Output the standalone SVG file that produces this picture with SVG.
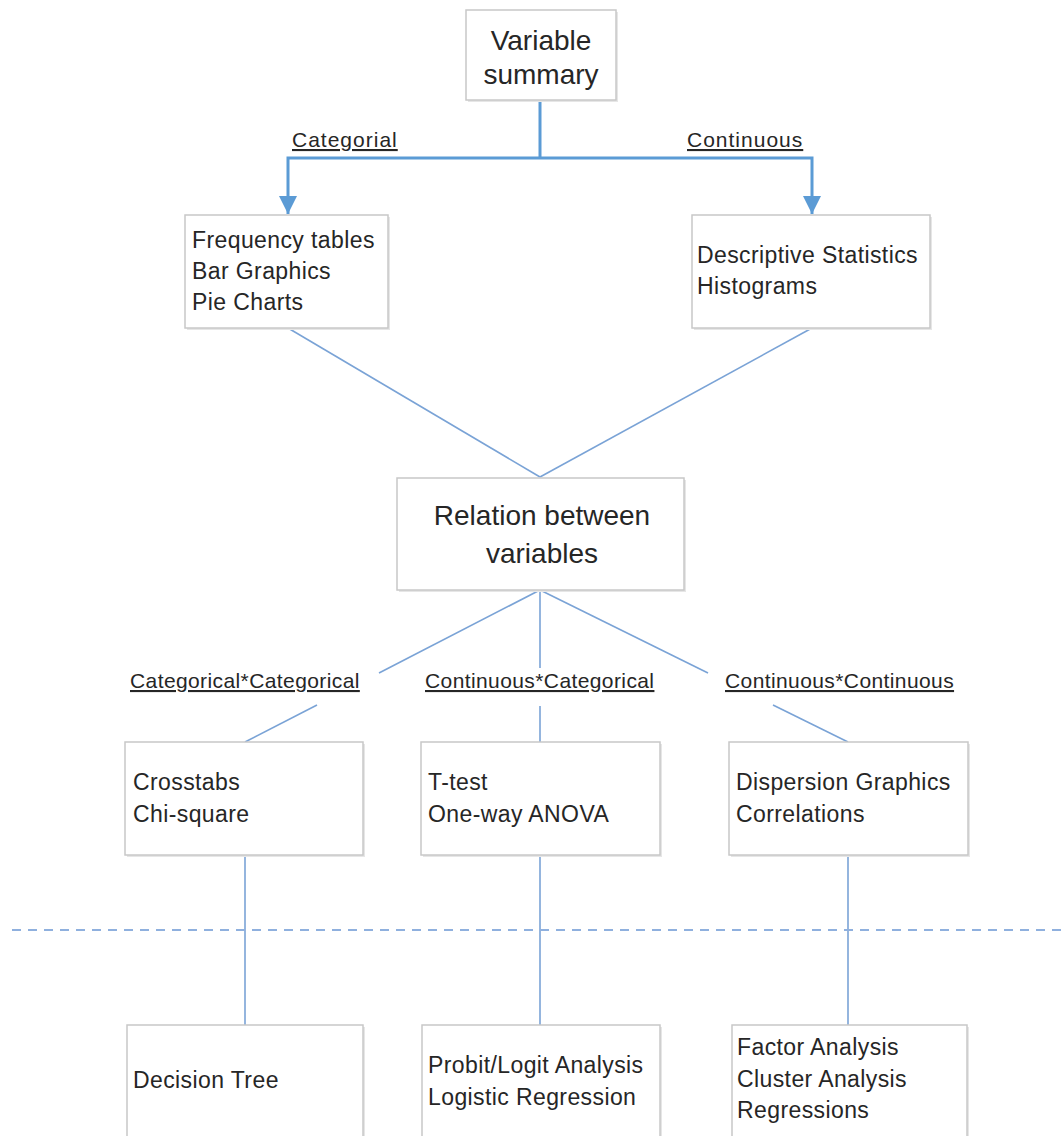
<svg xmlns="http://www.w3.org/2000/svg" width="1064" height="1136" viewBox="0 0 1064 1136">
<style>
.box{fill:#ffffff;stroke:#c8c8c8;stroke-width:1.5}
.shadow{fill:#e6e6e6;stroke:none}
.t{font-family:"Liberation Sans",Arial,sans-serif;font-size:23px;fill:#262626;letter-spacing:0.4px}
.big{font-family:"Liberation Sans",Arial,sans-serif;font-size:28px;fill:#262626;text-anchor:middle}
.lbl{font-family:"Liberation Sans",Arial,sans-serif;font-size:21px;fill:#262626;text-decoration:underline;letter-spacing:0.4px}
.lbl2{letter-spacing:1px}
.arrow{stroke:#5b9bd5;stroke-width:3;fill:none}
.ln{stroke:#7aa3d6;stroke-width:1.6;fill:none}
.dash{stroke:#8fb0de;stroke-width:2;stroke-dasharray:9 7;fill:none}
</style>
<defs>
<marker id="ah" markerWidth="6" markerHeight="6" refX="6" refY="3" orient="auto" markerUnits="strokeWidth">
<path d="M0,0 L6,3 L0,6 Z" fill="#5b9bd5"/>
</marker>
</defs>
<rect width="1064" height="1136" fill="#ffffff"/>

<g id="connectors">
<polyline class="arrow" points="540,100 540,158"/>
<polyline class="arrow" points="540,158 288,158 288,214" marker-end="url(#ah)"/>
<polyline class="arrow" points="540,158 812,158 812,214" marker-end="url(#ah)"/>
<line class="ln" x1="288" y1="328" x2="540" y2="477"/>
<line class="ln" x1="812" y1="328" x2="540" y2="477"/>
<line class="ln" x1="540" y1="590" x2="379" y2="673"/>
<line class="ln" x1="317" y1="705" x2="245" y2="742"/>
<line class="ln" x1="540" y1="590" x2="540" y2="668"/>
<line class="ln" x1="540" y1="706" x2="540" y2="742"/>
<line class="ln" x1="540" y1="590" x2="708" y2="673"/>
<line class="ln" x1="773" y1="705" x2="848" y2="742"/>
<line class="ln" x1="245" y1="855" x2="245" y2="1025"/>
<line class="ln" x1="540" y1="855" x2="540" y2="1025"/>
<line class="ln" x1="848" y1="855" x2="848" y2="1025"/>
<line class="dash" x1="12" y1="930" x2="1064" y2="930"/>
<text class="lbl lbl2" x="292" y="147">Categorial</text>
<text class="lbl lbl2" x="687" y="147">Continuous</text>
<text class="lbl" x="130" y="688">Categorical*Categorical</text>
<text class="lbl" x="425" y="688">Continuous*Categorical</text>
<text class="lbl" x="725" y="688">Continuous*Continuous</text>
</g>

<g id="variable-summary">
<rect class="shadow" x="468" y="12" width="150" height="90"/>
<rect class="box" x="466" y="10" width="150" height="90"/>
<text class="big" x="541" y="50">Variable</text>
<text class="big" x="541" y="84">summary</text>
</g>

<g id="categorical-summary">
<rect class="shadow" x="187" y="217" width="203" height="113"/>
<rect class="box" x="185" y="215" width="203" height="113"/>
<text class="t" x="192" y="248">Frequency tables</text>
<text class="t" x="192" y="279">Bar Graphics</text>
<text class="t" x="192" y="310">Pie Charts</text>
</g>

<g id="continuous-summary">
<rect class="shadow" x="694" y="217" width="238" height="113"/>
<rect class="box" x="692" y="215" width="238" height="113"/>
<text class="t" x="697" y="263">Descriptive Statistics</text>
<text class="t" x="697" y="294">Histograms</text>
</g>

<g id="relation">
<rect class="shadow" x="399" y="480" width="287" height="112"/>
<rect class="box" x="397" y="478" width="287" height="112"/>
<text class="big" x="542" y="525">Relation between</text>
<text class="big" x="542" y="563">variables</text>
</g>

<g id="cat-cat">
<rect class="shadow" x="127" y="744" width="238" height="113"/>
<rect class="box" x="125" y="742" width="238" height="113"/>
<text class="t" x="133" y="790">Crosstabs</text>
<text class="t" x="133" y="822">Chi-square</text>
</g>

<g id="cont-cat">
<rect class="shadow" x="423" y="744" width="239" height="113"/>
<rect class="box" x="421" y="742" width="239" height="113"/>
<text class="t" x="428" y="790">T-test</text>
<text class="t" x="428" y="822">One-way ANOVA</text>
</g>

<g id="cont-cont">
<rect class="shadow" x="731" y="744" width="239" height="113"/>
<rect class="box" x="729" y="742" width="239" height="113"/>
<text class="t" x="736" y="790">Dispersion Graphics</text>
<text class="t" x="736" y="822">Correlations</text>
</g>

<g id="decision-tree">
<rect class="shadow" x="129" y="1027" width="236" height="120"/>
<rect class="box" x="127" y="1025" width="236" height="120"/>
<text class="t" x="133" y="1088">Decision Tree</text>
</g>

<g id="probit-logit">
<rect class="shadow" x="424" y="1027" width="238" height="120"/>
<rect class="box" x="422" y="1025" width="238" height="120"/>
<text class="t" x="428" y="1073">Probit/Logit Analysis</text>
<text class="t" x="428" y="1105">Logistic Regression</text>
</g>

<g id="factor-cluster">
<rect class="shadow" x="734" y="1027" width="235" height="120"/>
<rect class="box" x="732" y="1025" width="235" height="120"/>
<text class="t" x="737" y="1055">Factor Analysis</text>
<text class="t" x="737" y="1087">Cluster Analysis</text>
<text class="t" x="737" y="1118">Regressions</text>
</g>
</svg>
